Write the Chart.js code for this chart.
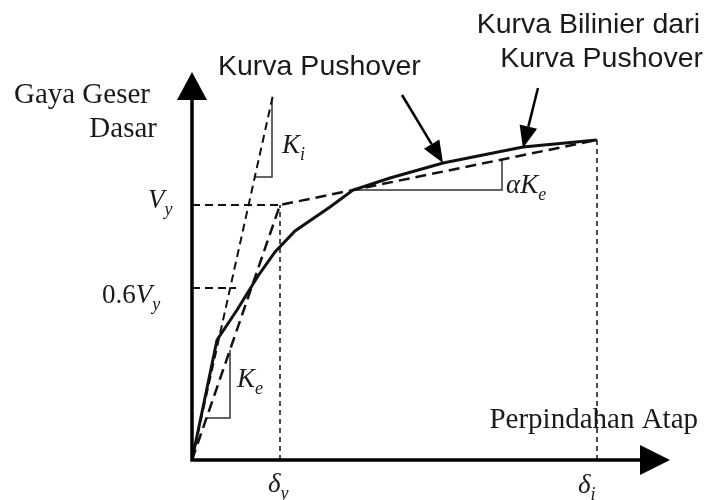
<!DOCTYPE html>
<html>
<head>
<meta charset="utf-8">
<script src="https://cdn.jsdelivr.net/npm/chart.js@4.4.0/dist/chart.umd.min.js"></script>
<style>
  html, body { margin: 0; padding: 0; background: #fff; }
  canvas { display: block; }
</style>
</head>
<body>
<canvas id="pushoverChart" width="708" height="500"></canvas>
<script>
// satuan gambar: x = perpindahan atap, y = gaya geser dasar (origin di sudut sumbu)
const Vy = 255;      // gaya leleh
const dy = 88;       // perpindahan leleh
const di = 405;      // perpindahan target
const Vi = 320;

const kurvaPushover = [
  { x: 0, y: 0 }, { x: 25, y: 120 }, { x: 45, y: 150 }, { x: 66, y: 184 },
  { x: 83, y: 208 }, { x: 103, y: 229 }, { x: 138, y: 253 }, { x: 161, y: 270 },
  { x: 198, y: 282 }, { x: 251, y: 297 }, { x: 331, y: 313 }, { x: di, y: Vi }
];
const kurvaBilinier = [{ x: 0, y: 0 }, { x: dy, y: Vy }, { x: di, y: Vi }];
const garisKi = [{ x: 0, y: 0 }, { x: 81, y: 365 }];
const garisVy = [{ x: 0, y: Vy }, { x: dy, y: Vy }];
const garis06Vy = [{ x: 0, y: 172 }, { x: 44, y: 172 }];
const garisDy = [{ x: dy, y: 0 }, { x: dy, y: Vy }];
const garisDi = [{ x: di, y: 0 }, { x: di, y: Vi }];

const segitigaKi = [{ x: 63, y: 283 }, { x: 80, y: 283 }, { x: 80, y: 362 }];
const segitigaKe = [{ x: 14.5, y: 42 }, { x: 38, y: 42 }, { x: 38, y: 110 }];
const segitigaAlpha = [{ x: 161, y: 270 }, { x: 310, y: 270 }, { x: 310, y: 300.5 }];

// panah keterangan: ekor -> ujung
const panah = [
  { from: { x: 210, y: 365 }, to: { x: 251, y: 297 } },
  { from: { x: 346, y: 372 }, to: { x: 331, y: 312 } }
];

const teksBiasa = [
  { t: "Gaya Geser", x: -42, y: 357, align: "right", font: "serif" },
  { t: "Dasar", x: -35, y: 323, align: "right", font: "serif" },
  { t: "Perpindahan Atap", x: 506, y: 32, align: "right", font: "serif" },
  { t: "Kurva Pushover", x: 26, y: 385, align: "left", font: "sans" },
  { t: "Kurva Bilinier dari", x: 508, y: 427, align: "right", font: "sans" },
  { t: "Kurva Pushover", x: 511, y: 393, align: "right", font: "sans" }
];

// label simbol: [awalan tegak, simbol miring, subskrip]
const teksSimbol = [
  { pre: "", main: "V", sub: "y", x: -44, y: 252 },
  { pre: "0.6", main: "V", sub: "y", x: -90, y: 157 },
  { pre: "", main: "K", sub: "i", x: 90, y: 307 },
  { pre: "", main: "K", sub: "e", x: 45, y: 73 },
  { pre: "", main: "\u03B1K", sub: "e", x: 314, y: 267 },
  { pre: "", main: "\u03B4", sub: "y", x: 76, y: -32 },
  { pre: "", main: "\u03B4", sub: "i", x: 386, y: -33 }
];

const SERIF = '"Liberation Serif", "DejaVu Serif", serif';
const SANS = '"Liberation Sans", Arial, sans-serif';

function garis(data, width, dash, color) {
  return {
    data: data,
    borderColor: color || "#111",
    borderWidth: width,
    borderDash: dash || [],
    pointRadius: 0,
    tension: 0,
    fill: false
  };
}

const gambarPlugin = {
  id: "gambarPushover",
  afterDatasetsDraw(chart) {
    const ctx = chart.ctx;
    const sx = chart.scales.x, sy = chart.scales.y;
    const P = (x, y) => [sx.getPixelForValue(x), sy.getPixelForValue(y)];

    ctx.save();
    ctx.strokeStyle = "#000";
    ctx.fillStyle = "#000";
    ctx.lineCap = "butt";

    // sumbu
    ctx.lineWidth = 3.5;
    let o = P(0, 0), a = P(0, 360), b = P(448, 0);
    ctx.beginPath();
    ctx.moveTo(a[0], a[1]); ctx.lineTo(o[0], o[1]); ctx.lineTo(b[0], b[1]);
    ctx.stroke();
    // kepala panah sumbu
    let t = P(0, 388);
    ctx.beginPath();
    ctx.moveTo(t[0], t[1]); ctx.lineTo(a[0] - 15, a[1]); ctx.lineTo(a[0] + 15, a[1]);
    ctx.closePath(); ctx.fill();
    t = P(478, 0);
    ctx.beginPath();
    ctx.moveTo(t[0], t[1]); ctx.lineTo(b[0], b[1] - 15); ctx.lineTo(b[0], b[1] + 15);
    ctx.closePath(); ctx.fill();

    // panah keterangan
    panah.forEach(p => {
      const f = P(p.from.x, p.from.y), e = P(p.to.x, p.to.y);
      const ang = Math.atan2(e[1] - f[1], e[0] - f[0]);
      const len = 22, half = 9;
      const bx = e[0] - len * Math.cos(ang), by = e[1] - len * Math.sin(ang);
      ctx.lineWidth = 2.5;
      ctx.beginPath();
      ctx.moveTo(f[0], f[1]); ctx.lineTo(bx, by); ctx.stroke();
      ctx.beginPath();
      ctx.moveTo(e[0], e[1]);
      ctx.lineTo(bx + half * Math.sin(ang), by - half * Math.cos(ang));
      ctx.lineTo(bx - half * Math.sin(ang), by + half * Math.cos(ang));
      ctx.closePath(); ctx.fill();
    });

    // teks
    ctx.fillStyle = "#1a1a1a";
    ctx.textBaseline = "alphabetic";
    teksBiasa.forEach(l => {
      const p = P(l.x, l.y);
      ctx.font = l.font === "serif" ? "29px " + SERIF : "28.5px " + SANS;
      ctx.textAlign = l.align;
      ctx.fillText(l.t, p[0], p[1]);
    });

    ctx.textAlign = "left";
    teksSimbol.forEach(l => {
      let p = P(l.x, l.y);
      let x = p[0];
      if (l.pre) {
        ctx.font = "27px " + SERIF;
        ctx.fillText(l.pre, x, p[1]);
        x += ctx.measureText(l.pre).width;
      }
      ctx.font = "italic 27px " + SERIF;
      ctx.fillText(l.main, x, p[1]);
      x += ctx.measureText(l.main).width;
      ctx.font = "italic 18px " + SERIF;
      ctx.fillText(l.sub, x, p[1] + 7);
    });
    ctx.restore();
  }
};

new Chart(document.getElementById("pushoverChart").getContext("2d"), {
  type: "line",
  data: {
    datasets: [
      garis(kurvaPushover, 3),
      garis(kurvaBilinier, 2.5, [11, 6]),
      garis(garisKi, 2, [8, 5]),
      garis(garisVy, 2, [8, 5]),
      garis(garis06Vy, 2, [8, 5]),
      garis(garisDy, 1.5, [5, 4]),
      garis(garisDi, 1.5, [5, 4]),
      garis(segitigaKi, 1.5, [], "#333"),
      garis(segitigaKe, 1.5, [], "#333"),
      garis(segitigaAlpha, 1.5, [], "#333")
    ]
  },
  options: {
    responsive: false,
    animation: false,
    layout: { padding: { left: 192, right: 36, top: 70, bottom: 40 } },
    plugins: { legend: { display: false }, tooltip: { enabled: false } },
    scales: {
      x: { type: "linear", min: 0, max: 480, display: false },
      y: { type: "linear", min: 0, max: 390, display: false }
    }
  },
  plugins: [gambarPlugin]
});
</script>
</body>
</html>
